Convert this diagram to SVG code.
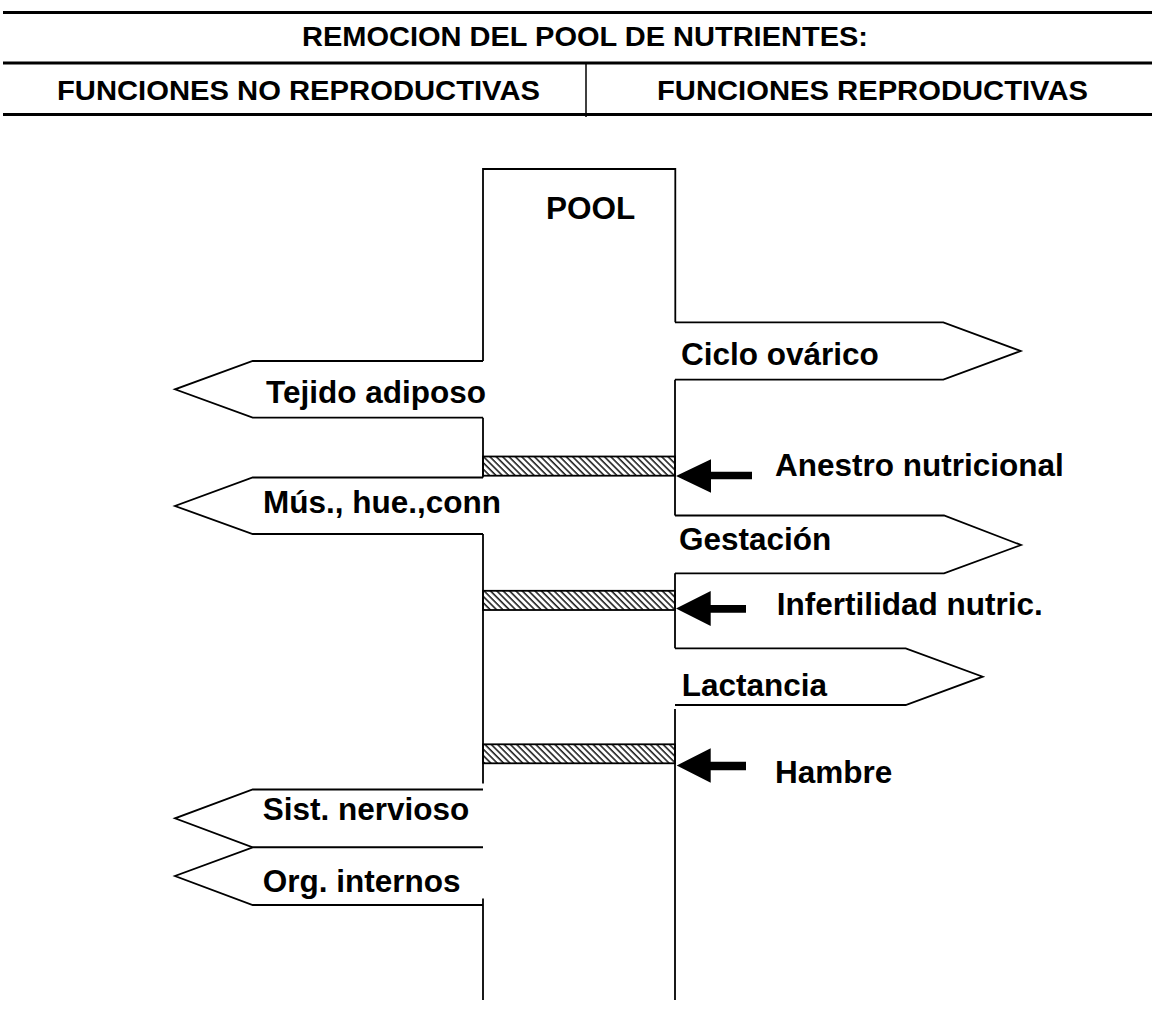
<svg xmlns="http://www.w3.org/2000/svg" width="1155" height="1012" viewBox="0 0 1155 1012">
<style>
  .hdr{font-family:"Liberation Sans",Arial,sans-serif;font-weight:bold;font-size:27.5px;fill:#000}
  .lbl{font-family:"Liberation Sans",Arial,sans-serif;font-weight:bold;font-size:31.5px;fill:#000}
  .rule{stroke:#000;stroke-width:3;fill:none}
  .ln{stroke:#000;stroke-width:1.8;fill:none;stroke-linejoin:miter}
  .shape{stroke:#000;stroke-width:1.8;fill:#fff;stroke-linejoin:miter}
  .bar{stroke:#000;stroke-width:1.8;fill:url(#hatch)}
  .blk{fill:#000;stroke:none}
</style>
<defs>
  <pattern id="hatch" width="4.5" height="4.5" patternUnits="userSpaceOnUse" patternTransform="rotate(-45)">
    <rect width="4.5" height="4.5" fill="#fff"/>
    <line x1="1" y1="0" x2="1" y2="4.5" stroke="#222" stroke-width="1.6"/>
  </pattern>
</defs>
<rect width="1155" height="1012" fill="#fff"/>

<g id="header">
  <line class="rule" x1="3" y1="12.5" x2="1152" y2="12.5"/>
  <line class="rule" x1="3" y1="63" x2="1152" y2="63"/>
  <line class="rule" x1="3" y1="114.5" x2="1152" y2="114.5"/>
  <line x1="586" y1="63" x2="586" y2="117" stroke="#000" stroke-width="1.5"/>
  <text class="hdr" x="302" y="46" textLength="566" lengthAdjust="spacingAndGlyphs">REMOCION DEL POOL DE NUTRIENTES:</text>
  <text class="hdr" x="57" y="100" textLength="483" lengthAdjust="spacingAndGlyphs">FUNCIONES NO REPRODUCTIVAS</text>
  <text class="hdr" x="657" y="100" textLength="431" lengthAdjust="spacingAndGlyphs">FUNCIONES REPRODUCTIVAS</text>
</g>

<g id="pool">
  <path class="ln" d="M483,361 V169 H675.3 V322.3"/>
  <text class="lbl" x="546" y="219.3">POOL</text>
</g>

<g id="ciclo">
  <path class="shape" d="M675,322.3 H943.3 L1020.7,351 L943.3,379.7 H675"/>
  <text class="lbl" x="681" y="365">Ciclo ovárico</text>
</g>
<g id="gestacion">
  <path class="shape" d="M675,515.5 H944 L1021,545 L944,573.3 H675"/>
  <text class="lbl" x="679" y="550">Gestación</text>
</g>
<g id="lactancia">
  <path class="shape" d="M675,648.3 H905.7 L982.7,676.7 L905.7,705 H675"/>
  <text class="lbl" x="681.7" y="695.7">Lactancia</text>
</g>

<g id="tejido">
  <path class="shape" d="M483,361 H252.7 L175,389.3 L252.7,417.7 H483"/>
  <text class="lbl" x="266" y="402.7">Tejido adiposo</text>
</g>
<g id="musculo">
  <path class="shape" d="M483,477.5 H252.7 L175,506 L252.7,534 H483"/>
  <text class="lbl" x="263" y="513.3">Mús., hue.,conn</text>
</g>
<g id="sistema">
  <path class="shape" d="M483,789.5 H252.7 L175,818.3 L252.7,847.3 H483"/>
  <text class="lbl" x="262.7" y="820">Sist. nervioso</text>
</g>
<g id="organos">
  <path class="shape" d="M483,847.3 H252.7 L175,876 L252.7,905 H483"/>
  <text class="lbl" x="262.7" y="891.7">Org. internos</text>
</g>

<g id="bars">
  <rect class="bar" x="483" y="456.5" width="192" height="19.2"/>
  <rect class="bar" x="483" y="590.8" width="192" height="19.2"/>
  <rect class="bar" x="483" y="744.3" width="192" height="19"/>
</g>

<g id="anestro">
  <text class="lbl" x="775" y="475.7">Anestro nutricional</text>
</g>
<g id="infertilidad">
  <text class="lbl" x="776.7" y="615">Infertilidad nutric.</text>
</g>
<g id="hambre">
  <text class="lbl" x="775" y="782.7">Hambre</text>
</g>

<g id="connectors">
  <path class="ln" d="M483,417.7 V477.5"/>
  <path class="ln" d="M483,534 V783.5"/>
  <path class="ln" d="M483,898.5 V1000"/>
  <path class="ln" d="M675,379.7 V515.5"/>
  <path class="ln" d="M675,573.3 V648.3"/>
  <path class="ln" d="M675,709 V1000"/>
  <polygon class="blk" points="676,476 711,459.3 711,471.7 752,471.7 752,479.3 711,479.3 711,492.7"/>
  <polygon class="blk" points="676,608.5 710.7,591 710.7,605 746,605 746,612.7 710.7,612.7 710.7,626"/>
  <polygon class="blk" points="676.7,765.5 710.7,748.3 710.7,761.7 746,761.7 746,770.3 710.7,770.3 710.7,782.7"/>
</g>
</svg>
